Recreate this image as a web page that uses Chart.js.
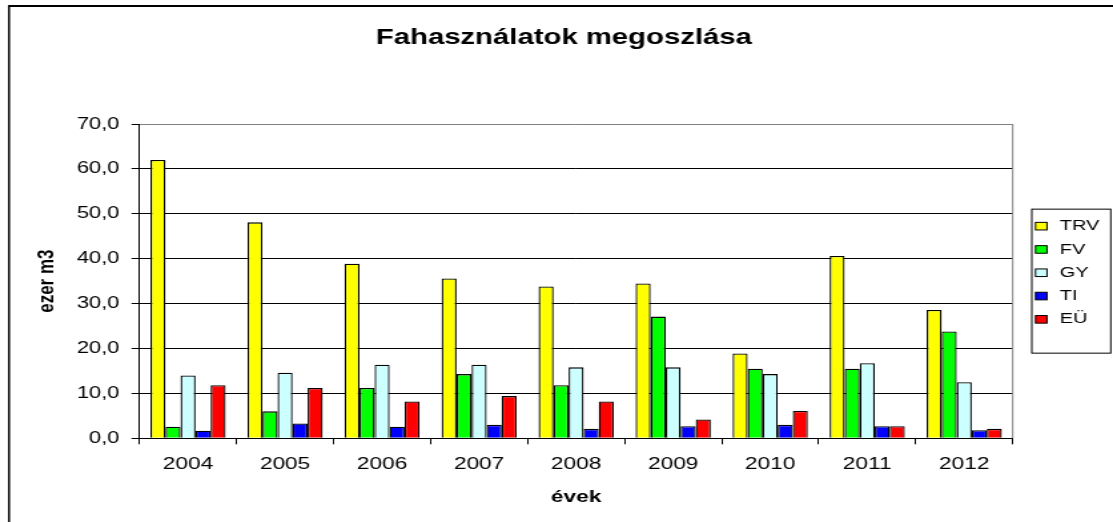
<!DOCTYPE html>
<html><head><meta charset="utf-8">
<script src="https://cdn.jsdelivr.net/npm/chart.js@4.4.0/dist/chart.umd.min.js"></script>
<style>
html,body{margin:0;padding:0;background:#fff;overflow:hidden;}
#wrap{width:836px;height:522px;transform:scaleX(1.33134);transform-origin:0 0;}
canvas{display:block;}
</style></head><body>
<div id="wrap"><canvas id="c" width="836" height="522"></canvas></div>
<script>
// ---- data ----
const categories = ['2004','2005','2006','2007','2008','2009','2010','2011','2012'];
const seriesNames = ['TRV','FV','GY','TI','EÜ'];
const trv = [62.0, 48.1, 38.9, 35.6, 33.8, 34.5, 18.9, 40.6, 28.6];
const fv  = [2.6, 6.0, 11.2, 14.3, 11.8, 27.1, 15.5, 15.5, 23.8];
const gy  = [14.0, 14.6, 16.4, 16.4, 15.8, 15.8, 14.3, 16.7, 12.5];
const ti  = [1.7, 3.3, 2.6, 3.0, 2.1, 2.7, 3.0, 2.7, 1.8];
const eu  = [11.8, 11.2, 8.2, 9.4, 8.2, 4.2, 6.1, 2.7, 2.1];
const yTickValues = [0, 10, 20, 30, 40, 50, 60, 70];
const titleText = 'Fahasználatok megoszlása';
const yTitle = 'ezer m3';
const xTitle = 'évek';

const seriesValues = [trv, fv, gy, ti, eu];
const seriesColors = ['#FFFF00', '#00FF00', '#CCFFFF', '#0000FF', '#FF0000'];

Chart.defaults.font.family = "'Liberation Sans', Arial, sans-serif";
Chart.defaults.color = '#000';

const framePlugin = {
  id: 'frame',
  beforeDatasetsDraw(chart) {
    const ctx = chart.ctx, ca = chart.chartArea;
    ctx.save();
    ctx.strokeStyle = '#808080';
    ctx.lineWidth = 1;
    ctx.beginPath();
    ctx.moveTo(ca.right, ca.top);
    ctx.lineTo(ca.right, ca.bottom);
    ctx.stroke();
    ctx.restore();
  },
  afterDraw(chart) {
    const ctx = chart.ctx;
    ctx.save();
    ctx.strokeStyle = '#000';
    ctx.lineWidth = 2;
    ctx.beginPath();
    ctx.moveTo(6.8, 6);
    ctx.lineTo(chart.width + 5, 6);
    ctx.stroke();
    ctx.lineWidth = 1.5;
    ctx.beginPath();
    ctx.moveTo(6.8, 5);
    ctx.lineTo(6.8, chart.height + 5);
    ctx.stroke();
    ctx.restore();
  }
};

const legendPlugin = {
  id: 'boxLegend',
  afterDraw(chart) {
    const ctx = chart.ctx, ca = chart.chartArea;
    const left = ca.right + 14.3, w = 59.3, h = 144;
    const top = (ca.top + ca.bottom) / 2 - h / 2;
    ctx.save();
    ctx.strokeStyle = '#000';
    ctx.lineWidth = 1;
    ctx.strokeRect(left, top, w, h);
    ctx.font = "15px 'Liberation Sans', Arial, sans-serif";
    ctx.textBaseline = 'middle';
    ctx.textAlign = 'left';
    chart.data.datasets.forEach((ds, i) => {
      const y = top + 17 + i * 23.3;
      ctx.fillStyle = ds.backgroundColor;
      ctx.fillRect(left + 2.8, y - 3.8, 8.6, 7.6);
      ctx.strokeStyle = '#000';
      ctx.strokeRect(left + 2.8, y - 3.8, 8.6, 7.6);
      ctx.fillStyle = '#000';
      ctx.fillText(ds.label, left + 21, y);
    });
    ctx.restore();
  }
};

new Chart(document.getElementById('c'), {
  type: 'bar',
  data: {
    labels: categories,
    datasets: seriesNames.map((n, i) => ({
      label: n,
      data: seriesValues[i],
      backgroundColor: seriesColors[i],
      borderColor: '#000',
      borderWidth: 1.3,
      barPercentage: 1,
      categoryPercentage: 0.775
    }))
  },
  options: {
    responsive: false,
    animation: false,
    devicePixelRatio: 1,
    layout: { padding: { left: 11, right: 0, top: 0, bottom: 0 } },
    plugins: {
      legend: { display: false },
      tooltip: { enabled: false },
      title: {
        display: true, text: titleText, color: '#000',
        font: { size: 22, weight: 'bold' },
        padding: { top: 24.8, bottom: 72.8 }
      }
    },
    scales: {
      x: {
        ticks: { color: '#000', font: { size: 17 }, padding: 10 },
        grid: { display: true, drawOnChartArea: false, drawTicks: true, tickLength: 6, color: '#000', offset: true },
        border: { color: '#000', width: 1 },
        title: { display: true, text: xTitle, color: '#000', font: { size: 17, weight: 'bold' }, padding: { top: 0, bottom: 14 } },
        afterFit: s => { s.height = 83.7; }
      },
      y: {
        min: 0, max: 70,
        afterBuildTicks: s => { s.ticks = yTickValues.map(v => ({ value: v })); },
        ticks: { color: '#000', font: { size: 16.5 }, padding: 9, callback: v => Number(v).toFixed(1).replace('.', ',') },
        grid: { color: c => (c.tick && c.tick.value === 70) ? '#808080' : '#000', tickColor: '#000', tickLength: 6, lineWidth: 1 },
        border: { color: '#000', width: 1 },
        title: { display: true, text: yTitle, color: '#000', font: { size: 17, weight: 'bold' }, padding: { top: 14.1, bottom: 0 } },
        afterFit: s => { s.width = 93.8; }
      },
      yR: {
        position: 'right', display: true, min: 0, max: 1,
        ticks: { display: false },
        grid: { display: false, drawTicks: false },
        border: { display: false },
        afterFit: s => { s.width = 75.3; }
      }
    }
  },
  plugins: [framePlugin, legendPlugin]
});
</script>
</body></html>
